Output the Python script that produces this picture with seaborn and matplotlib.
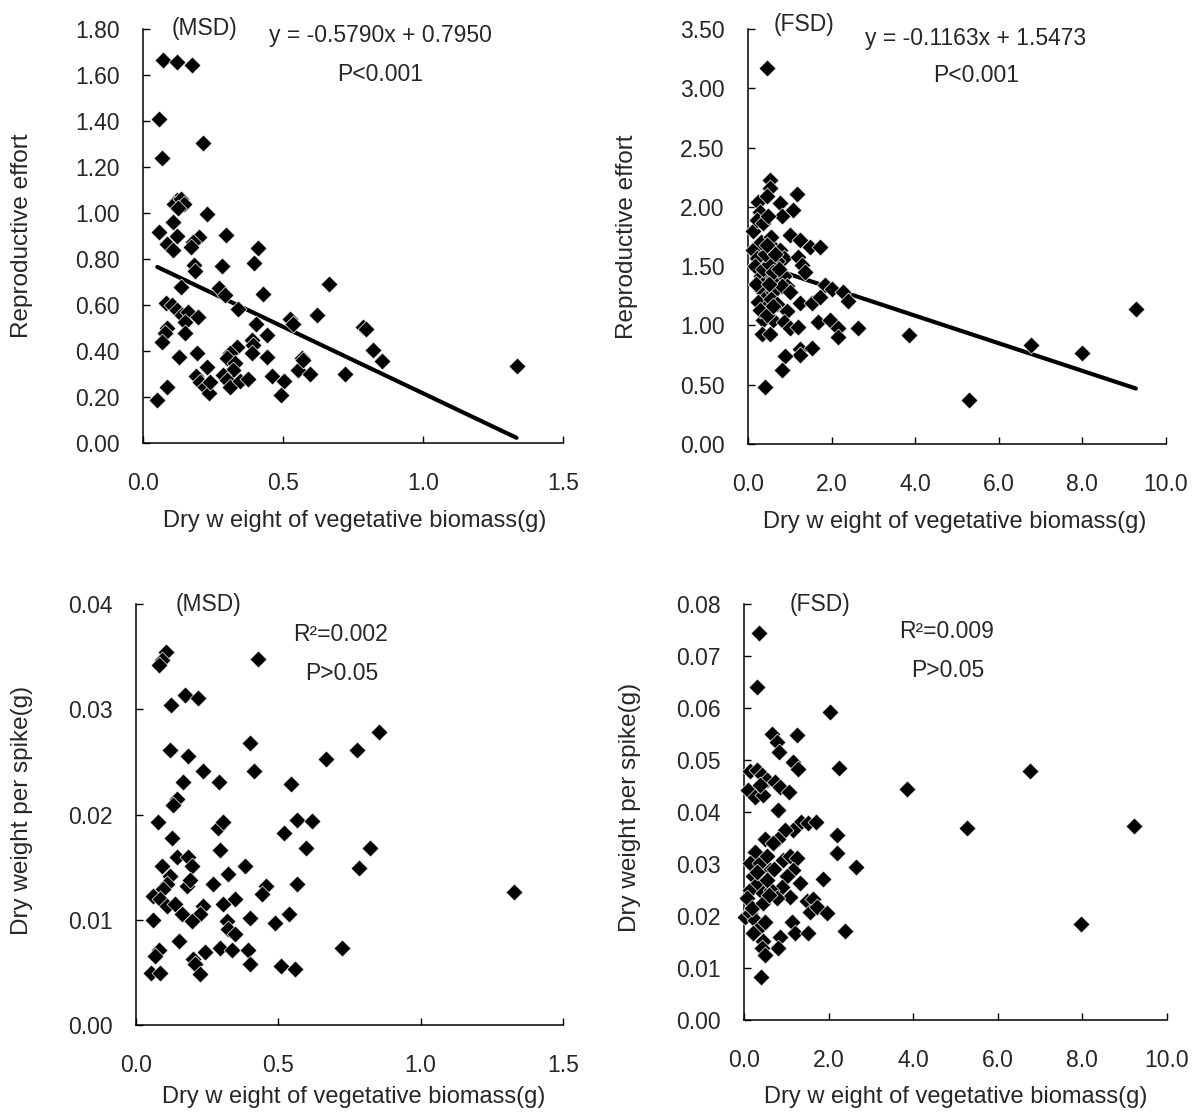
import matplotlib
matplotlib.use("Agg")
import matplotlib.pyplot as plt
import seaborn as sns
import numpy as np
import pandas as pd

# ---------------- data ----------------
# (MSD) reproductive effort vs vegetative biomass
msd_re_x = [0.073, 0.123, 0.174, 0.058, 0.213, 0.067,
            0.12, 0.11, 0.135, 0.145, 0.125,
            0.227, 0.106, 0.058, 0.123, 0.296,
            0.2, 0.18, 0.17, 0.085, 0.106,
            0.412, 0.396, 0.182, 0.186, 0.283,
            0.136, 0.273, 0.293, 0.43, 0.665,
            0.082, 0.102, 0.12, 0.138, 0.162, 0.15, 0.198,
            0.34, 0.525, 0.537, 0.62, 0.404, 0.785, 0.795,
            0.085, 0.079, 0.067, 0.15, 0.442,
            0.388, 0.394, 0.388, 0.13, 0.192,
            0.335, 0.311, 0.299, 0.329, 0.323,
            0.442, 0.567, 0.555, 0.596, 0.82, 0.852, 0.721,
            0.227, 0.189, 0.204, 0.221, 0.237, 0.239,
            0.287, 0.299, 0.311, 0.346, 0.376, 0.46,
            0.504, 0.492, 0.085, 0.051, 1.334, 0.573]
msd_re_y = [1.665, 1.658, 1.643, 1.407, 1.306, 1.240,
            1.057, 1.04, 1.06, 1.04, 1.02,
            0.994, 0.96, 0.919, 0.90, 0.904,
            0.894, 0.873, 0.854, 0.864, 0.839,
            0.849, 0.781, 0.774, 0.749, 0.771,
            0.680, 0.672, 0.643, 0.647, 0.691,
            0.607, 0.600, 0.578, 0.557, 0.571, 0.527, 0.549,
            0.581, 0.538, 0.517, 0.557, 0.517, 0.503, 0.495,
            0.499, 0.477, 0.44, 0.477, 0.47,
            0.448, 0.426, 0.39, 0.375, 0.393,
            0.419, 0.39, 0.368, 0.346, 0.317,
            0.375, 0.368, 0.317, 0.30, 0.404, 0.358, 0.30,
            0.332, 0.291, 0.267, 0.245, 0.219, 0.267,
            0.296, 0.274, 0.245, 0.271, 0.277, 0.291,
            0.271, 0.209, 0.245, 0.187, 0.335, 0.36]

# (FSD) reproductive effort vs vegetative biomass
fsd_re_x = [0.45, 0.53, 0.53, 1.18, 0.25, 0.45, 0.77, 1.08, 0.81, 0.29,
            0.13, 0.21, 0.37, 0.49, 1.0, 1.24, 1.48, 1.72,
            0.13, 0.21, 0.17, 0.61, 0.77, 0.85, 0.69,
            1.20, 1.28, 1.36,
            0.3, 0.45, 0.61, 0.85, 0.93, 0.3, 0.45, 0.61, 0.81, 1.0,
            0.25, 0.4, 0.55, 0.7, 0.35, 0.5, 0.6, 0.4, 0.3, 0.55,
            0.65, 0.45, 0.2, 0.75, 0.5, 0.35, 0.6,
            1.84, 2.0, 2.28, 2.4, 1.24, 1.52, 1.72,
            0.29, 0.45, 0.61, 0.93, 0.85, 1.0, 1.2,
            1.68, 1.96, 2.16, 2.16, 2.62, 3.86,
            0.33, 0.53, 1.24, 1.52, 1.24, 0.89, 0.81, 0.41,
            5.29, 6.77, 8.0, 9.28]
fsd_re_y = [3.17, 2.23, 2.16, 2.11, 2.04, 2.09, 2.03, 1.97, 1.92, 1.96,
            1.80, 1.89, 1.86, 1.92, 1.76, 1.72, 1.66, 1.66,
            1.64, 1.57, 1.50, 1.66, 1.64, 1.57, 1.54,
            1.58, 1.51, 1.45,
            1.42, 1.38, 1.40, 1.42, 1.33, 1.30, 1.25, 1.28, 1.33, 1.28,
            1.20, 1.15, 1.22, 1.18, 1.48, 1.52, 1.45, 1.60, 1.70, 1.75,
            1.60, 1.68, 1.35, 1.48, 1.35, 1.05, 1.05,
            1.34, 1.31, 1.28, 1.21, 1.19, 1.19, 1.24,
            1.13, 1.09, 1.16, 1.12, 1.03, 0.975, 0.99,
            1.03, 1.045, 0.975, 0.905, 0.98, 0.92,
            0.93, 0.93, 0.80, 0.81, 0.75, 0.74, 0.62, 0.48,
            0.371, 0.835, 0.765, 1.136]

# (MSD) dry weight per spike vs vegetative biomass
msd_sp_x = [0.105, 0.09, 0.082, 0.429, 0.123, 0.172, 0.219,
            0.4, 0.854, 0.777, 0.666, 0.119, 0.184,
            0.415, 0.234, 0.166, 0.293, 0.543,
            0.143, 0.129, 0.076, 0.289, 0.304, 0.566, 0.62,
            0.519, 0.125, 0.596, 0.823, 0.295,
            0.143, 0.184, 0.195, 0.09, 0.784, 0.382, 0.324,
            0.119, 0.108, 0.096, 0.061, 0.084, 0.108, 0.137, 0.16, 0.178, 0.189,
            0.271, 0.347, 0.307, 0.455, 0.444, 0.566,
            0.234, 0.225, 0.195, 0.061, 0.4, 0.488, 0.537,
            0.319, 0.324, 0.347, 0.152, 0.082, 0.067,
            0.295, 0.336, 0.242, 0.201, 0.207, 0.394, 0.4,
            0.725, 0.508, 0.558, 0.053, 0.084, 0.225, 1.327]
msd_sp_y = [0.0354, 0.0347, 0.0342, 0.0348, 0.0304, 0.0314, 0.0311,
            0.0268, 0.0278, 0.0261, 0.0253, 0.0261, 0.0256,
            0.0241, 0.0241, 0.0231, 0.0231, 0.0229,
            0.0215, 0.0209, 0.0193, 0.0187, 0.0193, 0.0195, 0.0194,
            0.0182, 0.0178, 0.0168, 0.0168, 0.0166,
            0.0160, 0.0160, 0.0151, 0.0151, 0.0149, 0.0151, 0.0143,
            0.0142, 0.0134, 0.0129, 0.0123, 0.0120, 0.0113, 0.0115, 0.0105, 0.0132, 0.0138,
            0.0134, 0.0120, 0.0115, 0.0132, 0.0124, 0.0134,
            0.0113, 0.0105, 0.0099, 0.0100, 0.0102, 0.0097, 0.0105,
            0.0099, 0.0091, 0.0086, 0.0080, 0.0071, 0.0066,
            0.0073, 0.0071, 0.0069, 0.0063, 0.0058, 0.0071, 0.0058,
            0.0073, 0.0056, 0.0053, 0.0049, 0.0049, 0.0048, 0.0126]

# (FSD) dry weight per spike vs vegetative biomass
fsd_sp_x = [0.355, 0.31, 2.03, 0.67, 0.77, 0.83, 1.26, 1.17, 1.28, 2.25,
            3.85, 0.14, 0.30, 0.42, 0.54, 0.10, 0.26, 0.46, 0.73, 0.85, 1.07, 0.38,
            0.81, 1.35, 1.52, 1.70, 1.17, 0.97, 0.81, 0.50, 0.69,
            2.19, 2.19, 2.64, 0.26, 0.14, 0.38, 0.54, 0.61,
            0.93, 1.09, 1.25, 1.17, 1.01, 1.32, 0.89, 1.09, 1.87,
            0.22, 0.14, 0.34, 0.46, 0.65, 0.77, 0.06,
            1.48, 1.64, 1.56, 1.72, 1.97,
            0.02, 0.14, 0.26, 0.38, 0.22, 0.50,
            1.13, 1.21, 1.52, 2.39, 0.85, 0.81, 0.46, 0.42, 0.50, 0.40,
            0.30, 0.55, 0.70, 0.20, 0.45, 0.60,
            6.75, 5.28, 9.22, 7.96]
fsd_sp_y = [0.0744, 0.0640, 0.0592, 0.0550, 0.0535, 0.0516, 0.0548, 0.0497, 0.0482, 0.0484,
            0.0444, 0.0478, 0.0481, 0.0471, 0.0462, 0.0442, 0.0429, 0.0433, 0.0458, 0.0449, 0.0439, 0.0452,
            0.0404, 0.0381, 0.0378, 0.0381, 0.0365, 0.0365, 0.0349, 0.0349, 0.0340,
            0.0356, 0.0321, 0.0295, 0.0324, 0.0301, 0.0301, 0.0316, 0.0288,
            0.0308, 0.0316, 0.0311, 0.0288, 0.0276, 0.0263, 0.0256, 0.0237, 0.0271,
            0.0276, 0.0250, 0.0263, 0.0244, 0.0250, 0.0234, 0.0234,
            0.0228, 0.0233, 0.0208, 0.0217, 0.0205,
            0.0199, 0.0205, 0.0192, 0.0179, 0.0167, 0.0189,
            0.0189, 0.0167, 0.0167, 0.0172, 0.0160, 0.0138, 0.0151, 0.0138, 0.0125, 0.0082,
            0.0285, 0.0270, 0.0290, 0.0215, 0.0225, 0.0240,
            0.0478, 0.0369, 0.0373, 0.0184]

# fitted lines printed on the chart
msd_slope, msd_intercept = -0.5790, 0.7950
fsd_slope, fsd_intercept = -0.1163, 1.5473

xlabel = "Dry w eight of vegetative biomass(g)"

# ---------------- plotting ----------------
sns.set_style("ticks")
plt.rcParams['font.family'] = ['Liberation Sans', 'DejaVu Sans']

fig = plt.figure(figsize=(11.92, 11.13), dpi=100)
W, H = 1192, 1113


def make_ax(left, right, top, bottom):
    return fig.add_axes([left / W, 1 - bottom / H, (right - left) / W, (bottom - top) / H])


ax1 = make_ax(143, 563, 29, 443)
ax2 = make_ax(748, 1166, 29, 444)
ax3 = make_ax(136, 563, 604, 1025)
ax4 = make_ax(744, 1167, 604, 1020)

panels = [
    (ax1, msd_re_x, msd_re_y, (0, 1.5), np.arange(0, 1.51, 0.5), (0, 1.8), np.arange(0, 1.81, 0.2),
     "Reproductive effort"),
    (ax2, fsd_re_x, fsd_re_y, (0, 10), np.arange(0, 10.1, 2), (0, 3.5), np.arange(0, 3.51, 0.5),
     "Reproductive effort"),
    (ax3, msd_sp_x, msd_sp_y, (0, 1.5), np.arange(0, 1.51, 0.5), (0, 0.04), np.arange(0, 0.041, 0.01),
     "Dry weight per spike(g)"),
    (ax4, fsd_sp_x, fsd_sp_y, (0, 10), np.arange(0, 10.1, 2), (0, 0.08), np.arange(0, 0.081, 0.01),
     "Dry weight per spike(g)"),
]

for ax, xs, ys, xlim, xticks, ylim, yticks, ylab in panels:
    df = pd.DataFrame({"x": xs, "y": ys})
    sns.scatterplot(data=df, x="x", y="y", ax=ax, marker="D", s=75, color="black",
                    edgecolor="white", linewidth=0.5, clip_on=False, zorder=3)
    ax.set_xlim(*xlim)
    ax.set_ylim(*ylim)
    ax.set_xticks(xticks)
    ax.set_yticks(yticks)
    ax.xaxis.set_major_formatter(matplotlib.ticker.FormatStrFormatter("%.1f"))
    ax.yaxis.set_major_formatter(matplotlib.ticker.FormatStrFormatter("%.2f"))
    ax.tick_params(direction="in", length=5, width=1, labelsize=16.5, color="black")
    ax.tick_params(axis="x", pad=21)
    ax.tick_params(axis="y", pad=17)
    for side in ["top", "right"]:
        ax.spines[side].set_visible(False)
    for side in ["left", "bottom"]:
        ax.spines[side].set_linewidth(1.1)
        ax.spines[side].set_color("black")
    ax.set_xlabel(xlabel, fontsize=17, va="center")
    ax.set_ylabel(ylab, fontsize=17.5, va="center")
    ax.grid(False)

# regression lines
for ax, xs, slope, intercept in [(ax1, msd_re_x, msd_slope, msd_intercept),
                                 (ax2, fsd_re_x, fsd_slope, fsd_intercept)]:
    xl = np.array([min(xs), max(xs)])
    yl = slope * xl + intercept
    ax.plot(xl, yl, color="black", linewidth=3, solid_capstyle="round", zorder=2)

# label positions (axes fractions)
ax1.xaxis.set_label_coords(0.503, -0.188)
ax2.xaxis.set_label_coords(0.495, -0.188)
ax3.xaxis.set_label_coords(0.51, -0.171)
ax4.xaxis.set_label_coords(0.50, -0.185)
ax1.yaxis.set_label_coords(-0.288, 0.50)
ax2.yaxis.set_label_coords(-0.289, 0.50)
ax3.yaxis.set_label_coords(-0.267, 0.51)
ax4.yaxis.set_label_coords(-0.270, 0.51)

# annotations
txt = dict(fontsize=16.5, ha="center", va="center")
ax1.text(0.147, 1.0, "(MSD)", transform=ax1.transAxes, **txt)
ax1.text(0.565, 0.985, "y = -0.5790x + 0.7950", transform=ax1.transAxes, **txt)
ax1.text(0.565, 0.89, "P<0.001", transform=ax1.transAxes, **txt)

ax2.text(0.135, 1.01, "(FSD)", transform=ax2.transAxes, **txt)
ax2.text(0.545, 0.978, "y = -0.1163x + 1.5473", transform=ax2.transAxes, **txt)
ax2.text(0.545, 0.889, "P<0.001", transform=ax2.transAxes, **txt)

ax3.text(0.17, 1.0, "(MSD)", transform=ax3.transAxes, **txt)
ax3.text(0.478, 0.927, "R\u00b2=0.002", transform=ax3.transAxes, **txt)
ax3.text(0.482, 0.836, "P>0.05", transform=ax3.transAxes, **txt)

ax4.text(0.18, 1.0, "(FSD)", transform=ax4.transAxes, **txt)
ax4.text(0.48, 0.935, "R\u00b2=0.009", transform=ax4.transAxes, **txt)
ax4.text(0.482, 0.841, "P>0.05", transform=ax4.transAxes, **txt)

fig.savefig("out.png", dpi=100)
